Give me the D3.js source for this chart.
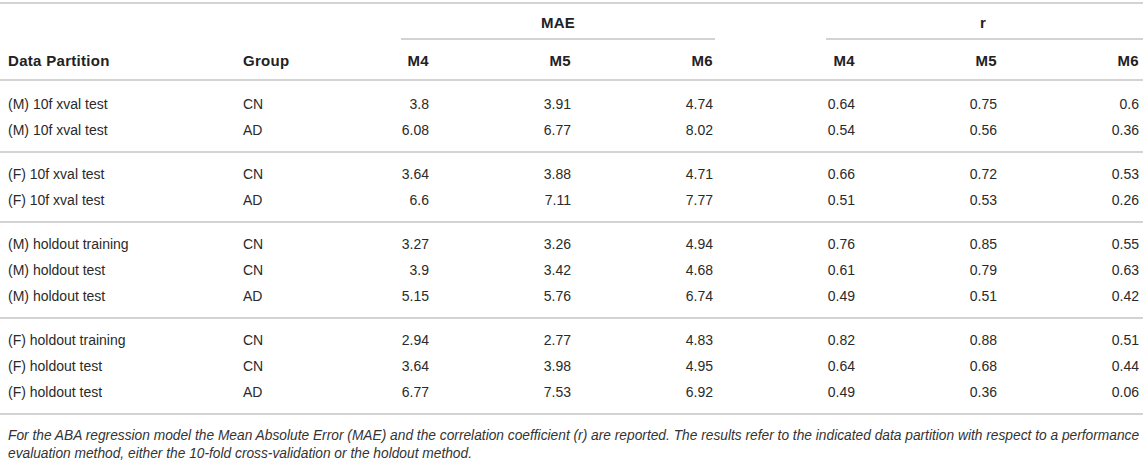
<!DOCTYPE html>
<html>
<head>
<meta charset="utf-8">
<script src="https://cdn.jsdelivr.net/npm/d3@7"></script>
<style>
  html, body { margin: 0; padding: 0; background: #fff; }
  svg { display: block; }
  text { font-family: "Liberation Sans", Arial, Helvetica, sans-serif; fill: #222; }
  .hdr { font-weight: bold; font-size: 15px; letter-spacing: 0.3px; }
  .cell { font-size: 14px; fill: #2a2a2a; }
  .cap { font-style: italic; font-size: 13.75px; fill: #333; }
</style>
</head>
<body>
<svg id="chart" width="1143" height="463"></svg>
<script>
// ---- data ----
const partitions = [
  "(M) 10f xval test", "(M) 10f xval test",
  "(F) 10f xval test", "(F) 10f xval test",
  "(M) holdout training", "(M) holdout test", "(M) holdout test",
  "(F) holdout training", "(F) holdout test", "(F) holdout test"
];
const groups = ["CN", "AD", "CN", "AD", "CN", "CN", "AD", "CN", "CN", "AD"];
const sections = [0, 0, 1, 1, 2, 2, 2, 3, 3, 3];
const maeM4 = ["3.8", "6.08", "3.64", "6.6", "3.27", "3.9", "5.15", "2.94", "3.64", "6.77"];
const maeM5 = ["3.91", "6.77", "3.88", "7.11", "3.26", "3.42", "5.76", "2.77", "3.98", "7.53"];
const maeM6 = ["4.74", "8.02", "4.71", "7.77", "4.94", "4.68", "6.74", "4.83", "4.95", "6.92"];
const rM4 = ["0.64", "0.54", "0.66", "0.51", "0.76", "0.61", "0.49", "0.82", "0.64", "0.49"];
const rM5 = ["0.75", "0.56", "0.72", "0.53", "0.85", "0.79", "0.51", "0.88", "0.68", "0.36"];
const rM6 = ["0.6", "0.36", "0.53", "0.26", "0.55", "0.63", "0.42", "0.51", "0.44", "0.06"];
const groupHeaders = ["MAE", "r"];
const modelLabels = ["M4", "M5", "M6"];
const leftHeaders = ["Data Partition", "Group"];
const captionLines = [
  "For the ABA regression model the Mean Absolute Error (MAE) and the correlation coefficient (r) are reported. The results refer to the indicated data partition with respect to a performance",
  "evaluation method, either the 10-fold cross-validation or the holdout method."
];

// ---- layout ----
const svg = d3.select("#chart");
const W = 1143;
const lineColor = "#c4c4c4";

const valueCols = [maeM4, maeM5, maeM6, rM4, rM5, rM6];
const colKeys = ["MAE-M4", "MAE-M5", "MAE-M6", "r-M4", "r-M5", "r-M6"];
const xNum = d3.scalePoint().domain(colKeys).range([429, 1139]);
const xLeft = d3.scaleOrdinal().domain(leftHeaders).range([8, 243]);

// row slot -> y (26px per row, 18px extra per section)
const gapFrac = 18 / 26;
const slot = i => i + sections[i] * gapFrac;
const y = d3.scaleLinear().domain([0, 1]).range([104, 130]);

function hline(x1, x2, yy) {
  svg.append("line").attr("x1", x1).attr("x2", x2).attr("y1", yy).attr("y2", yy)
    .attr("stroke", lineColor).attr("stroke-width", 1.6);
}

// top rule
hline(0, W, 3);

// group headers with underline spans
const spans = [
  { label: groupHeaders[0], x1: 401, x2: 715, cx: 558 },
  { label: groupHeaders[1], x1: 826, x2: W, cx: 983 }
];
spans.forEach(s => {
  svg.append("text").attr("class", "hdr").attr("x", s.cx).attr("y", 23)
    .attr("dy", "0.35em").attr("text-anchor", "middle").text(s.label);
  hline(s.x1, s.x2, 39);
});

// column headers
leftHeaders.forEach(h => {
  svg.append("text").attr("class", "hdr").attr("x", xLeft(h)).attr("y", 61)
    .attr("dy", "0.35em").text(h);
});
colKeys.forEach((k, j) => {
  svg.append("text").attr("class", "hdr").attr("x", xNum(k)).attr("y", 61)
    .attr("dy", "0.35em").attr("text-anchor", "end").text(modelLabels[j % 3]);
});
hline(0, W, 80);

// body rows
const rows = partitions.map((p, i) => ({ i, p, g: groups[i], vals: valueCols.map(c => c[i]) }));
const rowG = svg.selectAll("g.row").data(rows).join("g").attr("class", "row")
  .attr("transform", d => `translate(0,${y(slot(d.i))})`);
rowG.append("text").attr("class", "cell").attr("x", xLeft(leftHeaders[0])).attr("dy", "0.35em").text(d => d.p);
rowG.append("text").attr("class", "cell").attr("x", xLeft(leftHeaders[1])).attr("dy", "0.35em").text(d => d.g);
rowG.selectAll("text.num").data(d => d.vals.map((v, j) => ({ v, k: colKeys[j] })))
  .join("text").attr("class", "cell num").attr("x", d => xNum(d.k)).attr("dy", "0.35em")
  .attr("text-anchor", "end").text(d => d.v);

// section separators
const nSec = d3.max(sections) + 1;
for (let s = 0; s < nSec; s++) {
  const last = d3.max(d3.range(sections.length).filter(i => sections[i] === s));
  hline(0, W, y(slot(last)) + 22);
}

// caption
captionLines.forEach((t, k) => {
  svg.append("text").attr("class", "cap").attr("x", 8).attr("y", 435 + k * 18)
    .attr("dy", "0.35em").text(t);
});
</script>
</body>
</html>
